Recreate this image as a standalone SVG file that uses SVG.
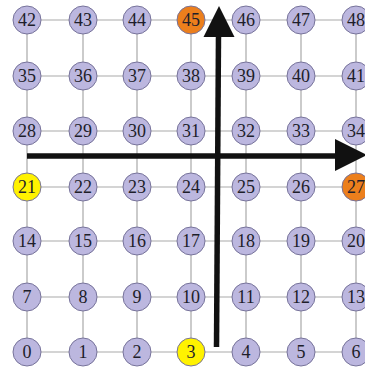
<svg xmlns="http://www.w3.org/2000/svg" width="365" height="374" viewBox="0 0 365 374">
<style>
.g{stroke:#a9a9a9;stroke-width:1.2;fill:none}
.n circle{fill:#bcb7df;stroke:#77739a;stroke-width:1}
.n.o circle{fill:#ec7f1c}
.n.y circle{fill:#fff200}
.n text{font-family:"Liberation Serif",serif;font-size:18px;fill:#1e1e2a;text-anchor:middle;dominant-baseline:central}
.a{stroke:#111;stroke-width:5.5;fill:none}
.h{fill:#111}
</style>
<rect width="365" height="374" fill="#fff"/>
<g id="connectors">
<g class="g">
<path d="M27 20H356M27 76H356M27 131H356M27 187H356M27 241H356M27 297H356M27 352H356"/>
<path d="M27 20V352M83 20V352M137 20V352M191 20V352M246 20V352M301 20V352M356 20V352"/>
</g>
</g>
<g id="nodes">
<g id="n42" class="n"><circle cx="27" cy="20" r="14"/><text x="27" y="20">42</text></g>
<g id="n43" class="n"><circle cx="83" cy="20" r="14"/><text x="83" y="20">43</text></g>
<g id="n44" class="n"><circle cx="137" cy="20" r="14"/><text x="137" y="20">44</text></g>
<g id="n45" class="n o"><circle cx="191" cy="20" r="14"/><text x="191" y="20">45</text></g>
<g id="n46" class="n"><circle cx="246" cy="20" r="14"/><text x="246" y="20">46</text></g>
<g id="n47" class="n"><circle cx="301" cy="20" r="14"/><text x="301" y="20">47</text></g>
<g id="n48" class="n"><circle cx="356" cy="20" r="14"/><text x="356" y="20">48</text></g>
<g id="n35" class="n"><circle cx="27" cy="76" r="14"/><text x="27" y="76">35</text></g>
<g id="n36" class="n"><circle cx="83" cy="76" r="14"/><text x="83" y="76">36</text></g>
<g id="n37" class="n"><circle cx="137" cy="76" r="14"/><text x="137" y="76">37</text></g>
<g id="n38" class="n"><circle cx="191" cy="76" r="14"/><text x="191" y="76">38</text></g>
<g id="n39" class="n"><circle cx="246" cy="76" r="14"/><text x="246" y="76">39</text></g>
<g id="n40" class="n"><circle cx="301" cy="76" r="14"/><text x="301" y="76">40</text></g>
<g id="n41" class="n"><circle cx="356" cy="76" r="14"/><text x="356" y="76">41</text></g>
<g id="n28" class="n"><circle cx="27" cy="131" r="14"/><text x="27" y="131">28</text></g>
<g id="n29" class="n"><circle cx="83" cy="131" r="14"/><text x="83" y="131">29</text></g>
<g id="n30" class="n"><circle cx="137" cy="131" r="14"/><text x="137" y="131">30</text></g>
<g id="n31" class="n"><circle cx="191" cy="131" r="14"/><text x="191" y="131">31</text></g>
<g id="n32" class="n"><circle cx="246" cy="131" r="14"/><text x="246" y="131">32</text></g>
<g id="n33" class="n"><circle cx="301" cy="131" r="14"/><text x="301" y="131">33</text></g>
<g id="n34" class="n"><circle cx="356" cy="131" r="14"/><text x="356" y="131">34</text></g>
<g id="n21" class="n y"><circle cx="27" cy="187" r="14"/><text x="27" y="187">21</text></g>
<g id="n22" class="n"><circle cx="83" cy="187" r="14"/><text x="83" y="187">22</text></g>
<g id="n23" class="n"><circle cx="137" cy="187" r="14"/><text x="137" y="187">23</text></g>
<g id="n24" class="n"><circle cx="191" cy="187" r="14"/><text x="191" y="187">24</text></g>
<g id="n25" class="n"><circle cx="246" cy="187" r="14"/><text x="246" y="187">25</text></g>
<g id="n26" class="n"><circle cx="301" cy="187" r="14"/><text x="301" y="187">26</text></g>
<g id="n27" class="n o"><circle cx="356" cy="187" r="14"/><text x="356" y="187">27</text></g>
<g id="n14" class="n"><circle cx="27" cy="241" r="14"/><text x="27" y="241">14</text></g>
<g id="n15" class="n"><circle cx="83" cy="241" r="14"/><text x="83" y="241">15</text></g>
<g id="n16" class="n"><circle cx="137" cy="241" r="14"/><text x="137" y="241">16</text></g>
<g id="n17" class="n"><circle cx="191" cy="241" r="14"/><text x="191" y="241">17</text></g>
<g id="n18" class="n"><circle cx="246" cy="241" r="14"/><text x="246" y="241">18</text></g>
<g id="n19" class="n"><circle cx="301" cy="241" r="14"/><text x="301" y="241">19</text></g>
<g id="n20" class="n"><circle cx="356" cy="241" r="14"/><text x="356" y="241">20</text></g>
<g id="n7" class="n"><circle cx="27" cy="297" r="14"/><text x="27" y="297">7</text></g>
<g id="n8" class="n"><circle cx="83" cy="297" r="14"/><text x="83" y="297">8</text></g>
<g id="n9" class="n"><circle cx="137" cy="297" r="14"/><text x="137" y="297">9</text></g>
<g id="n10" class="n"><circle cx="191" cy="297" r="14"/><text x="191" y="297">10</text></g>
<g id="n11" class="n"><circle cx="246" cy="297" r="14"/><text x="246" y="297">11</text></g>
<g id="n12" class="n"><circle cx="301" cy="297" r="14"/><text x="301" y="297">12</text></g>
<g id="n13" class="n"><circle cx="356" cy="297" r="14"/><text x="356" y="297">13</text></g>
<g id="n0" class="n"><circle cx="27" cy="352" r="14"/><text x="27" y="352">0</text></g>
<g id="n1" class="n"><circle cx="83" cy="352" r="14"/><text x="83" y="352">1</text></g>
<g id="n2" class="n"><circle cx="137" cy="352" r="14"/><text x="137" y="352">2</text></g>
<g id="n3" class="n y"><circle cx="191" cy="352" r="14"/><text x="191" y="352">3</text></g>
<g id="n4" class="n"><circle cx="246" cy="352" r="14"/><text x="246" y="352">4</text></g>
<g id="n5" class="n"><circle cx="301" cy="352" r="14"/><text x="301" y="352">5</text></g>
<g id="n6" class="n"><circle cx="356" cy="352" r="14"/><text x="356" y="352">6</text></g>
</g>
<g id="axes">
<path class="a" d="M216.5 347L218.5 34"/>
<polygon class="h" points="219,6 234.5,37 203.5,37"/>
<path class="a" d="M27 156H337"/>
<polygon class="h" points="335,139 335,171 367,155"/>
</g>
</svg>
